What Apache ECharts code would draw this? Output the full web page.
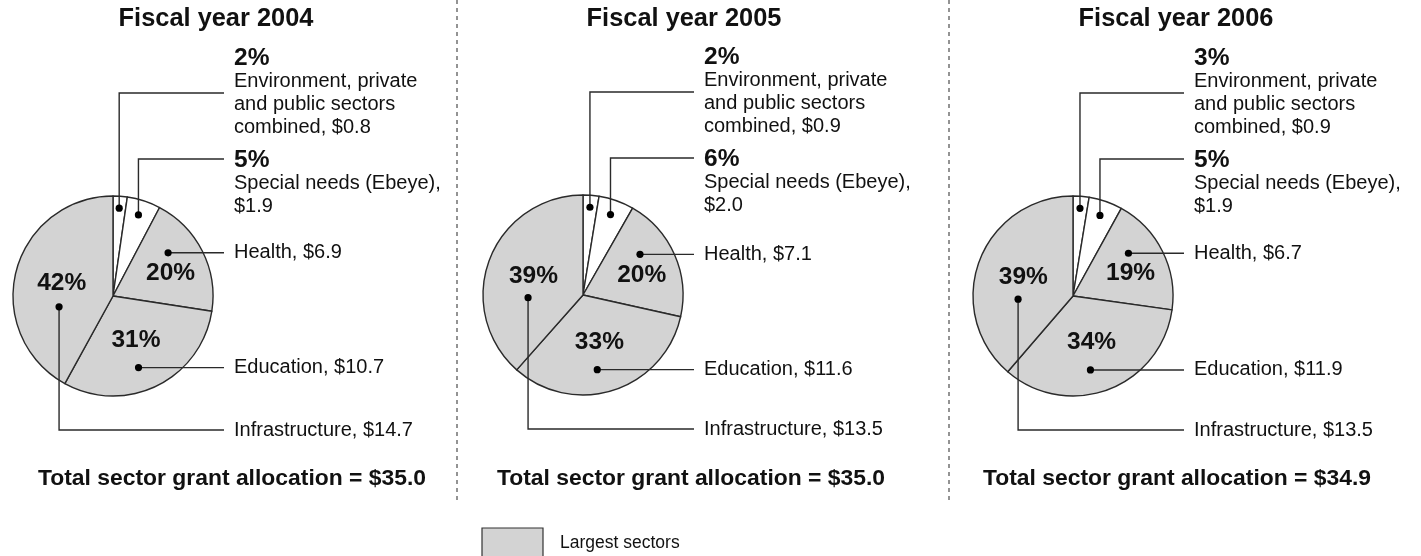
<!DOCTYPE html>
<html>
<head>
<meta charset="utf-8">
<script src="https://cdn.jsdelivr.net/npm/echarts@6/dist/echarts.min.js"></script>
<style>
html,body{margin:0;padding:0;background:#ffffff;}
#chart{width:1421px;height:556px;}
</style>
</head>
<body>
<div id="chart"></div>
<script>
// ---------------- data ----------------
const years = ['2004', '2005', '2006'];
const categories = ['Environment, private and public sectors combined', 'Special needs (Ebeye)', 'Health', 'Education', 'Infrastructure'];
const labelNames = ['Environment, private\nand public sectors\ncombined', 'Special needs (Ebeye)', 'Health', 'Education', 'Infrastructure'];
const values2004 = [0.8, 1.9, 6.9, 10.7, 14.7];
const values2005 = [0.9, 2.0, 7.1, 11.6, 13.5];
const values2006 = [0.9, 1.9, 6.7, 11.9, 13.5];
const percents2004 = [2, 5, 20, 31, 42];
const percents2005 = [2, 6, 20, 33, 39];
const percents2006 = [3, 5, 19, 34, 39];
const totals = [35.0, 35.0, 34.9];
const largestSector = [false, false, true, true, true];
const legendLabel = 'Largest sectors';

// ---------------- layout / style ----------------
const FONT = '"Liberation Sans", Arial, Helvetica, sans-serif';
const INK = '#111111';
const GRAY = '#d3d3d3';
const centers = [[113, 296], [583, 295], [1073, 296]];
const R = 100;
const titleX = [216, 684, 1176];
const totalX = [232, 691, 1177];
const LINE_DX = 111, TEXT_DX = 121;
// dot placement inside each slice: [fraction of slice angle, fraction of radius]
const dotSpec = [[0.49, 0.88], [0.47, 0.85], [0.34, 0.70], [0.56, 0.76], [0.33, 0.55]];
// inner percentage placement
const pctSpec = [null, null, [0.57, 0.62], [0.49, 0.50], [0.50, 0.53]];
// leader line: mode, line level offset from centre, label offset from line level
const leaderSpec = [
  { mode: 'vertical', dy: -203, textDy: -47, va: 'top' },
  { mode: 'vertical', dy: -137, textDy: -11, va: 'top' },
  { mode: 'flat', va: 'middle' },
  { mode: 'flat', va: 'middle' },
  { mode: 'vertical', dy: 134, textDy: 0, va: 'middle' }
];

const allValues = [values2004, values2005, values2006];
const allPercents = [percents2004, percents2005, percents2006];

function slicePoint(vals, c, i, t, rho) {
  const tot = vals.reduce((a, b) => a + b, 0);
  let s = 0;
  for (let j = 0; j < i; j++) s += vals[j];
  const a = (s + t * vals[i]) / tot * 2 * Math.PI;
  return [c[0] + rho * R * Math.sin(a), c[1] - rho * R * Math.cos(a)];
}

function outerText(k, i) {
  const v = allValues[k][i];
  const txt = labelNames[i] + ',' + (i === 1 ? '\n' : ' ') + '$' + v.toFixed(1);
  const lines = txt.split('\n').map(s => '{t|' + s + '}');
  if (!largestSector[i]) lines.unshift('{p|' + allPercents[k][i] + '%}');
  return lines.join('\n');
}

const series = [];
const graphics = [];

allValues.forEach((vals, k) => {
  const c = centers[k];
  // slices + inner percentages
  series.push({
    type: 'pie',
    center: c,
    radius: R,
    startAngle: 90,
    clockwise: true,
    avoidLabelOverlap: false,
    silent: true,
    animation: false,
    itemStyle: { borderColor: '#2a2a2a', borderWidth: 1.4 },
    label: {
      show: true,
      position: 'inside',
      formatter: p => largestSector[p.dataIndex] ? allPercents[k][p.dataIndex] + '%' : '',
      fontFamily: FONT, fontSize: 24.5, fontWeight: 'bold', color: INK
    },
    labelLine: { show: false },
    labelLayout: p => {
      const i = p.dataIndex;
      if (!pctSpec[i]) return {};
      const pt = slicePoint(vals, c, i, pctSpec[i][0], pctSpec[i][1]);
      return { x: pt[0], y: pt[1], align: 'center', verticalAlign: 'middle' };
    },
    data: vals.map((v, i) => ({ name: categories[i], value: v, itemStyle: { color: largestSector[i] ? GRAY : '#ffffff' } }))
  });
  // transparent copy carrying the callout labels and leader lines
  series.push({
    type: 'pie',
    center: c,
    radius: R,
    startAngle: 90,
    clockwise: true,
    avoidLabelOverlap: false,
    silent: true,
    animation: false,
    z: 3,
    itemStyle: { color: 'rgba(0,0,0,0)', borderWidth: 0 },
    label: {
      show: true,
      position: 'outside',
      formatter: p => outerText(k, p.dataIndex),
      rich: {
        p: { fontFamily: FONT, fontSize: 24.5, fontWeight: 'bold', color: INK, lineHeight: 24 },
        t: { fontFamily: FONT, fontSize: 20, color: INK, lineHeight: 23 }
      }
    },
    labelLine: { show: true, smooth: false, lineStyle: { color: '#2a2a2a', width: 1.4 } },
    labelLayout: p => {
      const i = p.dataIndex;
      const spec = leaderSpec[i];
      const d = slicePoint(vals, c, i, dotSpec[i][0], dotSpec[i][1]);
      const xEnd = c[0] + LINE_DX;
      let ly, pts;
      if (spec.mode === 'vertical') {
        ly = c[1] + spec.dy;
        pts = [d, [d[0], ly], [xEnd, ly]];
      } else {
        ly = d[1];
        pts = [d, [(d[0] + xEnd) / 2, ly], [xEnd, ly]];
      }
      const y = spec.mode === 'vertical' ? ly + spec.textDy : ly;
      return { x: c[0] + TEXT_DX, y: y, align: 'left', verticalAlign: spec.va, labelLinePoints: pts };
    },
    data: vals.map((v, i) => ({ name: categories[i], value: v }))
  });

  // dots at leader line origins
  vals.forEach((v, i) => {
    const d = slicePoint(vals, c, i, dotSpec[i][0], dotSpec[i][1]);
    graphics.push({ type: 'circle', z: 100, shape: { cx: d[0], cy: d[1], r: 3.6 }, style: { fill: '#000000' } });
  });

  graphics.push({
    type: 'text', z: 100, x: titleX[k], y: 19,
    style: { text: 'Fiscal year ' + years[k], font: 'bold 25.4px ' + FONT, fill: INK, align: 'center', verticalAlign: 'middle' }
  });
  graphics.push({
    type: 'text', z: 100, x: totalX[k], y: 479,
    style: { text: 'Total sector grant allocation = $' + totals[k].toFixed(1), font: 'bold 22.9px ' + FONT, fill: INK, align: 'center', verticalAlign: 'middle' }
  });
});

// dashed separators
[457, 949].forEach(x => {
  graphics.push({ type: 'line', z: 100, shape: { x1: x, y1: 0, x2: x, y2: 500 }, style: { stroke: '#666666', lineWidth: 1.4, lineDash: [4, 4] } });
});

// legend key
graphics.push({ type: 'rect', z: 100, shape: { x: 482, y: 528, width: 61, height: 40 }, style: { fill: GRAY, stroke: '#333333', lineWidth: 1.2 } });
graphics.push({ type: 'text', z: 100, x: 560, y: 543, style: { text: legendLabel, font: '17.5px ' + FONT, fill: INK, align: 'left', verticalAlign: 'middle' } });

const chart = echarts.init(document.getElementById('chart'), null, { renderer: 'canvas' });
chart.setOption({
  backgroundColor: '#ffffff',
  animation: false,
  series: series,
  graphic: { elements: graphics }
});
</script>
</body>
</html>
